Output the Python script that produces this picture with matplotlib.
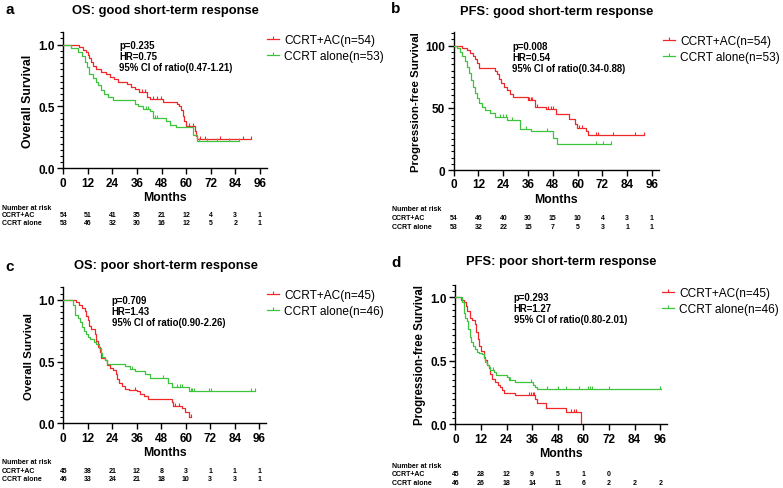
import numpy as np
import matplotlib
matplotlib.use('Agg')
import matplotlib.pyplot as plt
import matplotlib.transforms as mtransforms
from matplotlib.lines import Line2D
from matplotlib.path import Path
from matplotlib.ticker import MultipleLocator, FormatStrFormatter

plt.rcParams['font.family'] = ['Liberation Sans', 'DejaVu Sans']

RED = '#f02828'
GREEN = '#3cc43c'

# ---- panel a: OS, good short-term response ----
a_red_t = [0, 7.5, 9.8, 11, 12, 12.8, 13.5, 14.3, 16, 18.5, 21, 23, 25, 26.5, 31, 33, 35, 37,
           41, 42.5, 48.5, 55.5, 56.5, 57.5, 58.3, 59, 60, 64.5, 65, 65.5]
a_red_s = [1.0, 0.98, 0.96, 0.94, 0.92, 0.89, 0.86, 0.83, 0.80, 0.78, 0.76, 0.74, 0.72, 0.70, 0.68,
           0.66, 0.64, 0.62, 0.58, 0.56, 0.54, 0.52, 0.50, 0.47, 0.42, 0.38, 0.34, 0.30, 0.26, 0.24]
a_red_cens = [38.5, 40, 44, 46, 47.5, 61.5, 63.5, 67, 69, 76.5, 88, 91.5]
a_red_end = 91.5
a_grn_t = [0, 4, 7, 9, 10.5, 11.5, 12.5, 14.5, 16, 17, 18.5, 20, 22, 24.5, 35, 36.5, 39, 42.5,
           44, 50, 52, 55, 63.5, 65.2]
a_grn_s = [1.0, 0.97, 0.94, 0.91, 0.86, 0.82, 0.76, 0.73, 0.70, 0.67, 0.63, 0.60, 0.58, 0.55,
           0.52, 0.50, 0.48, 0.46, 0.41, 0.38, 0.35, 0.33, 0.27, 0.22]
a_grn_cens = [40.5, 41.5, 45, 46, 66.5, 70, 75, 81, 86]
a_grn_end = 86
a_risk_red = [54, 51, 41, 35, 21, 12, 4, 3, 1]
a_risk_grn = [53, 46, 32, 30, 16, 12, 5, 2, 1]

# ---- panel b: PFS, good short-term response ----
b_red_t = [0, 4, 6.5, 8, 9.5, 10.5, 11.3, 12.2, 20, 21, 22, 23, 24.2, 25.8, 27.4, 28.5, 36,
           39.5, 44.5, 49.5, 56, 58.5, 59.5, 64, 65]
b_red_s = [100, 98, 96.5, 94.5, 92, 89, 86, 82, 80, 77, 73, 70, 67, 64, 61, 59, 56, 51, 49, 45,
           41, 37, 34, 31, 28]
b_red_cens = [36.5, 37.2, 38, 40.5, 45.5, 47, 48, 60.5, 62, 69, 70, 77, 88, 92]
b_red_end = 92
b_grn_t = [0, 1.6, 3, 4, 5.3, 6.5, 7.5, 8.5, 9.5, 10.5, 11.3, 12.2, 13.5, 15.3, 17.7, 20, 26,
           32, 37.5, 48, 49.8]
b_grn_s = [100, 98, 95, 92, 88, 83, 78, 72, 67, 62, 58, 54, 51, 48, 46, 43, 40, 33, 31, 26, 21]
b_grn_cens = [22.5, 24, 25.5, 28, 35, 45, 69, 72.5, 76]
b_grn_end = 76
b_risk_red = [54, 46, 40, 30, 15, 10, 4, 3, 1]
b_risk_grn = [53, 32, 22, 15, 7, 5, 3, 1, 1]

# ---- panel c: OS, poor short-term response ----
c_red_t = [0, 6, 7.5, 9, 10.5, 11.3, 12, 12.8, 13.8, 15.3, 16.2, 17, 17.8, 18.3, 20.5, 21.5, 23,
           24.3, 25.8, 26.5, 27.4, 28.6, 30.2, 32, 36, 37.6, 39.3, 41.6, 53, 53.6, 58.3, 59.6, 61.5]
c_red_s = [1.0, 0.98, 0.96, 0.93, 0.91, 0.87, 0.84, 0.79, 0.76, 0.72, 0.67, 0.62, 0.58, 0.53,
           0.51, 0.47, 0.45, 0.43, 0.40, 0.36, 0.33, 0.30, 0.28, 0.27, 0.26, 0.24, 0.22, 0.20,
           0.17, 0.14, 0.12, 0.09, 0.05]
c_red_cens = [35, 54.5, 56.5, 62.5]
c_red_end = 62.5
c_grn_t = [0, 5, 5.7, 7, 8, 9, 10, 11, 12, 13.2, 15, 16, 17.6, 18.3, 19, 20.5, 21.5, 30.2, 32.5,
           35, 40, 42.5, 51.5, 53, 61.5]
c_grn_s = [1.0, 0.96, 0.88, 0.85, 0.82, 0.78, 0.75, 0.72, 0.70, 0.68, 0.66, 0.64, 0.61, 0.57,
           0.54, 0.51, 0.48, 0.46, 0.44, 0.42, 0.40, 0.37, 0.33, 0.29, 0.265]
c_grn_cens = [33.5, 49, 55.5, 57, 58, 62.5, 63, 64, 71.5, 72.5, 92, 94]
c_grn_end = 94
c_risk_red = [45, 38, 21, 12, 8, 3, 1, 1, 1]
c_risk_grn = [46, 33, 24, 21, 18, 10, 3, 3, 1]

# ---- panel d: PFS, poor short-term response ----
d_red_t = [0, 2.5, 4, 4.8, 5.5, 7, 8, 9, 9.7, 10.5, 11.3, 12.2, 13.3, 14, 14.8, 15.6, 16.4, 17.2,
           18.4, 20, 21.1, 22, 22.8, 28, 37.5, 38.3, 42.5, 52, 58.7]
d_red_s = [1.0, 0.98, 0.96, 0.93, 0.89, 0.84, 0.82, 0.79, 0.73, 0.67, 0.62, 0.58, 0.53, 0.51,
           0.47, 0.44, 0.40, 0.36, 0.33, 0.31, 0.29, 0.27, 0.25, 0.23, 0.20, 0.17, 0.13, 0.10, 0.0]
d_red_cens = [34.5, 35.5, 36.3, 37, 54, 55.5, 56.5]
d_red_end = 58.7
d_grn_t = [0, 3, 3.9, 4.7, 5.5, 6, 6.7, 7.3, 8.1, 9.4, 10.2, 11.2, 12.5, 13.3, 14, 14.8, 15.6,
           16.4, 18, 19, 24.2, 25, 28, 36.5, 37.3, 38.2]
d_grn_s = [1.0, 0.96, 0.88, 0.84, 0.81, 0.75, 0.69, 0.65, 0.62, 0.59, 0.57, 0.56, 0.55, 0.52,
           0.49, 0.47, 0.45, 0.43, 0.41, 0.39, 0.37, 0.35, 0.33, 0.31, 0.29, 0.28]
d_grn_cens = [17.5, 25.8, 35.5, 43, 48, 52, 58, 62, 63, 64, 72, 96]
d_grn_end = 96.5
d_risk_red = [45, 28, 12, 9, 5, 1, 0]
d_risk_grn = [46, 26, 18, 14, 11, 6, 2, 2, 2]

risk_months = [0, 12, 24, 36, 48, 60, 72, 84, 96]

# censor tick: short line pointing up from the curve
TICK = Path([(0, 0), (0, 1)])

W, H = 783, 489
fig = plt.figure(figsize=(W / 100, H / 100), dpi=100)


def px(x, y):
    # pixel position (from top-left) -> figure fraction
    return x / W, 1 - y / H


def km(ax, t, s, end, cens, color):
    x = list(t) + [end]
    y = list(s) + [s[-1]]
    ax.plot(x, y, drawstyle='steps-post', color=color, lw=0.9, zorder=3)
    t_arr = np.array(t)
    s_arr = np.array(s)
    cy = s_arr[np.searchsorted(t_arr, cens, side='right') - 1]
    ax.plot(cens, cy, ls='none', marker=TICK, ms=4, mew=0.8, color=color, zorder=4)


def make_panel(rect, ylab, ylab_size, ytop, ymajor, yminor, yfmt):
    ax = fig.add_axes(rect)
    ax.set_xlim(0, 99.3)
    ax.set_ylim(0, ytop)
    for side in ['top', 'right']:
        ax.spines[side].set_visible(False)
    for side in ['left', 'bottom']:
        ax.spines[side].set_linewidth(1.0)
    ax.xaxis.set_major_locator(MultipleLocator(12))
    ax.yaxis.set_major_locator(MultipleLocator(ymajor))
    ax.yaxis.set_minor_locator(MultipleLocator(yminor))
    ax.yaxis.set_major_formatter(FormatStrFormatter(yfmt))
    ax.tick_params(which='major', direction='out', length=4, width=1.0, labelsize=8.5, pad=2)
    ax.tick_params(which='minor', direction='out', length=2, width=0.8)
    ax.tick_params(axis='x', which='minor', bottom=False)
    for lab in ax.get_xticklabels() + ax.get_yticklabels():
        lab.set_fontweight('bold')
    ax.set_xlabel('Months', fontsize=8.8, fontweight='bold', labelpad=2)
    ax.set_ylabel(ylab, fontsize=ylab_size, fontweight='bold', labelpad=3)
    return ax


def stats_text(ax, x, y, lines):
    for k, line in enumerate(lines):
        tr = mtransforms.offset_copy(ax.transData, fig=fig, x=0, y=-11 * k, units='dots')
        ax.text(x, y, line, transform=tr, fontsize=6.9, fontweight='bold',
                ha='left', va='center')


def legend(ax, x, y, labels):
    handles = [Line2D([], [], color=RED, lw=0.9, marker=TICK, ms=4, mew=0.8),
               Line2D([], [], color=GREEN, lw=0.9, marker=TICK, ms=4, mew=0.8)]
    ax.legend(handles, labels, loc='upper left', bbox_to_anchor=px(x, y),
              bbox_transform=fig.transFigure, frameon=False, fontsize=8.6,
              handlelength=1.0, handletextpad=0.45, labelspacing=0.35,
              borderpad=0, borderaxespad=0, numpoints=1)


def risk_table(ax, x0, y_head, y1, y2, red_vals, grn_vals):
    fig.text(*px(x0, y_head), 'Number at risk', fontsize=5, fontweight='bold', va='center')
    fig.text(*px(x0, y1), 'CCRT+AC', fontsize=5, fontweight='bold', va='center')
    fig.text(*px(x0, y2), 'CCRT alone', fontsize=5, fontweight='bold', va='center')
    tr = mtransforms.blended_transform_factory(ax.transData, fig.transFigure)
    for m, v in zip(risk_months, red_vals):
        ax.text(m, 1 - y1 / H, str(v), transform=tr, fontsize=5, fontweight='bold',
                ha='center', va='center', clip_on=False)
    for m, v in zip(risk_months, grn_vals):
        ax.text(m, 1 - y2 / H, str(v), transform=tr, fontsize=5, fontweight='bold',
                ha='center', va='center', clip_on=False)


# panel a
ax_a = make_panel([0.0808, 0.6538, 0.2597, 0.2781], 'Overall Survival', 8.8, 1.1, 0.5, 0.05, '%.1f')
km(ax_a, a_red_t, a_red_s, a_red_end, a_red_cens, RED)
km(ax_a, a_grn_t, a_grn_s, a_grn_end, a_grn_cens, GREEN)
stats_text(ax_a, 27.3, 1.0, ['p=0.235', 'HR=0.75', '95% CI of ratio(0.47-1.21)'])
legend(ax_a, 267, 35, ['CCRT+AC(n=54)', 'CCRT alone(n=53)'])
risk_table(ax_a, 2, 208, 215.5, 224, a_risk_red, a_risk_grn)

# panel b
ax_b = make_panel([0.5794, 0.6503, 0.2620, 0.2822], 'Progression-free Survival', 8.2, 111, 50, 5, '%d')
km(ax_b, b_red_t, b_red_s, b_red_end, b_red_cens, RED)
km(ax_b, b_grn_t, b_grn_s, b_grn_end, b_grn_cens, GREEN)
stats_text(ax_b, 28.2, 100, ['p=0.008', 'HR=0.54', '95% CI of ratio(0.34-0.88)'])
legend(ax_b, 663, 36, ['CCRT+AC(n=54)', 'CCRT alone(n=53)'])
risk_table(ax_b, 392, 210, 218.5, 227.5, b_risk_red, b_risk_grn)

# panel c
ax_c = make_panel([0.0808, 0.1323, 0.2590, 0.2787], 'Overall Survival', 8.2, 1.103, 0.5, 0.05, '%.1f')
km(ax_c, c_red_t, c_red_s, c_red_end, c_red_cens, RED)
km(ax_c, c_grn_t, c_grn_s, c_grn_end, c_grn_cens, GREEN)
stats_text(ax_c, 23.7, 1.0, ['p=0.709', 'HR=1.43', '95% CI of ratio(0.90-2.26)'])
legend(ax_c, 267, 290, ['CCRT+AC(n=45)', 'CCRT alone(n=46)'])
risk_table(ax_c, 2, 463, 471.5, 480, c_risk_red, c_risk_grn)

# panel d
ax_d = make_panel([0.5815, 0.1303, 0.2707, 0.2855], 'Progression-free Survival', 8.3, 1.10, 0.5, 0.05, '%.1f')
km(ax_d, d_red_t, d_red_s, d_red_end, d_red_cens, RED)
km(ax_d, d_grn_t, d_grn_s, d_grn_end, d_grn_cens, GREEN)
stats_text(ax_d, 27.3, 1.0, ['p=0.293', 'HR=1.27', '95% CI of ratio(0.80-2.01)'])
legend(ax_d, 662, 288, ['CCRT+AC(n=45)', 'CCRT alone(n=46)'])
risk_table(ax_d, 392, 466.5, 475, 483.5, d_risk_red, d_risk_grn)

# titles and panel letters
titles = ['OS: good short-term response', 'PFS: good short-term response',
          'OS: poor short-term response', 'PFS: poor short-term response']
title_pos = [(165, 11), (557, 12), (165.5, 266), (561, 262)]
letters = ['a', 'b', 'c', 'd']
letter_pos = [(10, 10), (396, 9), (10, 267), (396, 263)]
for txt, (x, y) in zip(titles, title_pos):
    fig.text(*px(x, y), txt, fontsize=9.3, fontweight='bold', ha='center', va='center')
for txt, (x, y) in zip(letters, letter_pos):
    fig.text(*px(x, y), txt, fontsize=11, fontweight='bold', ha='center', va='center')

fig.savefig('out.png', dpi=100)
